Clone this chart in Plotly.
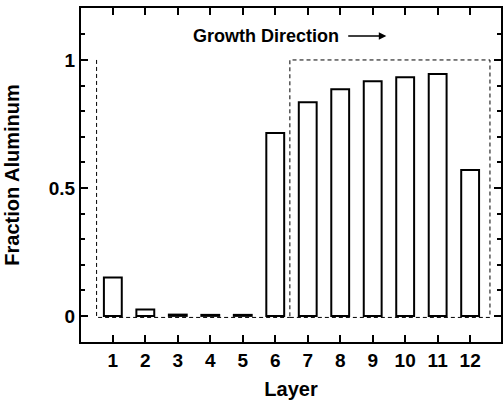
import plotly.graph_objects as go

# Aluminum fraction per grown layer
layers = [1, 2, 3, 4, 5, 6, 7, 8, 9, 10, 11, 12]
fraction_al = [0.15, 0.025, 0.005, 0.004, 0.004, 0.715, 0.835, 0.886, 0.917, 0.932, 0.945, 0.57]

y_tick_vals = [0, 0.5, 1]
y_tick_text = ["0", "0.5", "1"]

# dashed region outlines (layer / fraction coordinates)
region_a_x = [0.5, 0.5, 6.45]
region_a_y = [1.0, -0.006, -0.006]
region_b_x = [6.45, 12.61, 12.61, 6.45, 6.45]
region_b_y = [-0.006, -0.006, 1.0, 1.0, -0.006]

FONT = "Liberation Sans"
X_RANGE = [0.02, 12.95]
Y_RANGE = [-0.102, 1.203]

fig = go.Figure()

fig.add_trace(go.Bar(
    x=layers,
    y=fraction_al,
    width=0.55,
    marker=dict(color="white", line=dict(color="black", width=2)),
    showlegend=False,
))

for xs, ys in [(region_a_x, region_a_y), (region_b_x, region_b_y)]:
    fig.add_trace(go.Scatter(x=xs, y=ys, mode="lines",
                             line=dict(color="black", width=1, dash="4px,3px"),
                             showlegend=False, hoverinfo="skip"))

# growth direction label and arrow
fig.add_annotation(x=8.01, y=1.094, xref="x", yref="y", text="Growth Direction",
                   showarrow=False, xanchor="right", yanchor="middle",
                   font=dict(family=FONT, size=18, color="black", weight="bold"))
fig.add_annotation(x=9.42, y=1.094, ax=8.2, ay=1.094, xref="x", yref="y",
                   axref="x", ayref="y", text="", showarrow=True,
                   arrowhead=2, arrowsize=1, arrowwidth=1.5, arrowcolor="black")

fig.update_layout(
    width=503, height=400,
    margin=dict(l=81, r=0, t=8, b=58),
    paper_bgcolor="white", plot_bgcolor="white",
    xaxis=dict(
        range=X_RANGE, tickvals=layers, ticktext=[str(v) for v in layers],
        ticks="inside", ticklen=7, tickwidth=2, tickcolor="black",
        showline=True, linewidth=2, linecolor="black", mirror="ticks",
        showgrid=False, zeroline=False,
        tickfont=dict(family=FONT, size=19, color="black", weight="bold"),
        title=dict(text="Layer", standoff=13,
                   font=dict(family=FONT, size=20, color="black", weight="bold")),
    ),
    yaxis=dict(
        range=Y_RANGE, tickvals=y_tick_vals, ticktext=y_tick_text,
        ticks="inside", ticklen=7, tickwidth=2, tickcolor="black",
        minor=dict(dtick=0.1, tick0=0, ticks="inside", ticklen=4, tickwidth=2,
                   tickcolor="black"),
        showline=True, linewidth=2, linecolor="black", mirror="ticks",
        showgrid=False, zeroline=False,
        tickfont=dict(family=FONT, size=19, color="black", weight="bold"),
        title=dict(text="Fraction Aluminum", standoff=24,
                   font=dict(family=FONT, size=20, color="black", weight="bold")),
    ),
)

fig.write_html("out.html")
